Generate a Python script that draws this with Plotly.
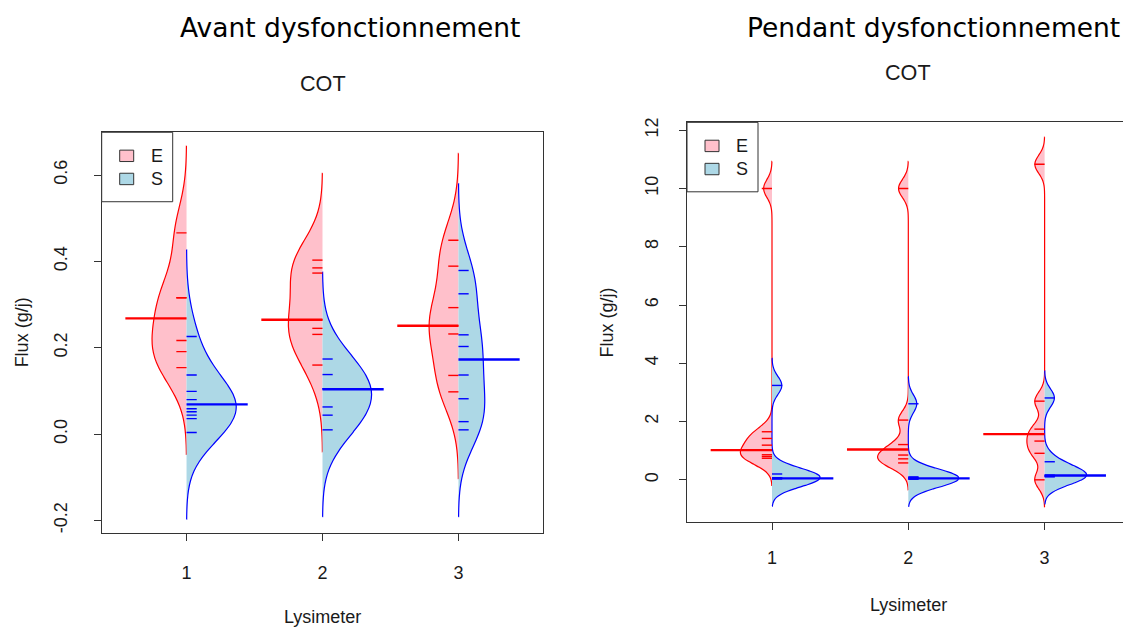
import numpy as np
import plotly.graph_objects as go

# Lysimeter groups
groups = [1, 2, 3]
group_labels = ["1", "2", "3"]

# COT flux (g/j) before the malfunction: entrée (E) and sortie (S) per lysimeter
avant_E = [
    [0.154, 0.191, 0.217, 0.316, 0.316, 0.466],
    [0.160, 0.231, 0.245, 0.265, 0.373, 0.385, 0.403],
    [0.098, 0.136, 0.232, 0.251, 0.293, 0.389, 0.449],
]
avant_S = [
    [0.004, 0.036, 0.044, 0.052, 0.059, 0.080, 0.099, 0.137, 0.226],
    [0.010, 0.044, 0.063, 0.105, 0.105, 0.138, 0.174],
    [0.010, 0.029, 0.082, 0.137, 0.203, 0.230, 0.325, 0.379],
]
avant_centre_E = [0.268, 0.265, 0.251]
avant_centre_S = [0.069, 0.104, 0.173]

# COT flux (g/j) during the malfunction
pendant_E = [
    [0.74, 0.80, 0.86, 1.19, 1.42, 1.65, 10.0],
    [0.58, 0.72, 0.85, 1.21, 2.05, 10.0],
    [0.0, 0.91, 1.33, 1.74, 2.70, 10.83],
]
pendant_S = [
    [0.03, 0.05, 0.06, 0.07, 0.20, 3.24],
    [0.02, 0.04, 0.05, 0.06, 0.08, 0.10, 2.61],
    [0.10, 0.12, 0.14, 0.16, 0.62, 2.81],
]
pendant_centre_E = [1.02, 1.04, 1.57]
pendant_centre_S = [0.05, 0.05, 0.15]

avant_yticks = [-0.2, 0.0, 0.2, 0.4, 0.6]
avant_yticktext = ["-0.2", "0.0", "0.2", "0.4", "0.6"]
pendant_yticks = [0, 2, 4, 6, 8, 10, 12]
pendant_yticktext = ["0", "2", "4", "6", "8", "10", "12"]

W, H = 1123, 628


def fx(px):
    return px / W


def fy(py):
    return 1 - py / H


RED, BLUE = "#ff0000", "#0000ff"
PINK, LIGHTBLUE = "#ffc0cb", "#add8e6"
FONT = "Liberation Sans, Arial, sans-serif"
TXT = "#1a1a1a"

panels = [
    dict(key="avant", xa="x", ya="y", E=avant_E, S=avant_S,
         cE=avant_centre_E, cS=avant_centre_S, bw=0.067, maxhalf=0.364),
    dict(key="pendant", xa="x2", ya="y2", E=pendant_E, S=pendant_S,
         cE=pendant_centre_E, cS=pendant_centre_S, bw=0.31, maxhalf=0.367),
]

BEANLINE = 0.075
CENTRELINE = 0.45


def kde_peak(vals, bw):
    """Highest value of the Gaussian kernel density over the bean's span."""
    v = np.asarray(vals, dtype=float)
    t = np.linspace(v.min() - 3 * bw, v.max() + 3 * bw, 600)
    z = (t[:, None] - v[None, :]) / bw
    dens = np.exp(-0.5 * z ** 2).sum(axis=1) / (len(v) * bw * np.sqrt(2 * np.pi))
    return dens.max()


fig = go.Figure()

for p in panels:
    bw = p["bw"]
    # all beans of a panel share one density scale
    peaks = {(s, i): kde_peak(vals, bw)
             for s, series in (("E", p["E"]), ("S", p["S"]))
             for i, vals in enumerate(series)}
    top = max(peaks.values())
    for s, side, series, fill, col in (("E", "negative", p["E"], PINK, RED),
                                       ("S", "positive", p["S"], LIGHTBLUE, BLUE)):
        for i, (g, vals) in enumerate(zip(groups, series)):
            half = p["maxhalf"] * peaks[(s, i)] / top
            fig.add_trace(go.Violin(
                x=[g] * len(vals), y=vals, side=side,
                width=2 * half, scalegroup=f"{p['key']}-{s}-{i}",
                scalemode="width",
                bandwidth=bw, spanmode="manual",
                span=[min(vals) - 3 * bw, max(vals) + 3 * bw],
                fillcolor=fill, line=dict(color=col, width=1.2),
                points=False, box_visible=False, meanline_visible=False,
                xaxis=p["xa"], yaxis=p["ya"], showlegend=False,
                hoverinfo="skip",
            ))

    # individual observations (bean lines)
    for series, sign, col in ((p["E"], -1, RED), (p["S"], 1, BLUE)):
        xs, ys = [], []
        for g, vals in zip(groups, series):
            for v in vals:
                xs += [g, g + sign * BEANLINE, None]
                ys += [v, v, None]
        fig.add_trace(go.Scatter(x=xs, y=ys, mode="lines",
                                 line=dict(color=col, width=1.4),
                                 xaxis=p["xa"], yaxis=p["ya"],
                                 showlegend=False, hoverinfo="skip"))

    # centre line of each bean half
    for centres, sign, col in ((p["cE"], -1, RED), (p["cS"], 1, BLUE)):
        xs, ys = [], []
        for g, c in zip(groups, centres):
            xs += [g, g + sign * CENTRELINE, None]
            ys += [c, c, None]
        fig.add_trace(go.Scatter(x=xs, y=ys, mode="lines",
                                 line=dict(color=col, width=2.4),
                                 xaxis=p["xa"], yaxis=p["ya"],
                                 showlegend=False, hoverinfo="skip"))

axis_common = dict(showgrid=False, zeroline=False, showline=True,
                   linecolor="#333333", linewidth=1, ticks="outside",
                   ticklen=7, tickcolor="#333333",
                   tickfont=dict(family=FONT, size=18, color=TXT))

fig.update_layout(
    width=W, height=H,
    margin=dict(l=0, r=0, t=0, b=0),
    paper_bgcolor="white", plot_bgcolor="white",
    violinmode="overlay", violingap=0, violingroupgap=0,
    showlegend=False,
    xaxis=dict(domain=[fx(101.7), fx(543.3)], range=[0.376, 3.624],
               tickvals=groups, ticktext=group_labels, mirror=True,
               anchor="y", ticklabelstandoff=16, **axis_common),
    yaxis=dict(domain=[fy(532.3), fy(128.3)], range=[-0.229, 0.699],
               tickvals=avant_yticks, ticktext=avant_yticktext,
               tickangle=-90, mirror=True, anchor="x",
               ticklabelstandoff=20, **axis_common),
    xaxis2=dict(domain=[fx(687), 1.0], range=[0.3764, 3.575],
                tickvals=groups, ticktext=group_labels, mirror=True,
                anchor="y2", ticklabelstandoff=12, **axis_common),
    yaxis2=dict(domain=[fy(521.5), fy(118.3)], range=[-1.46, 12.27],
                tickvals=pendant_yticks, ticktext=pendant_yticktext,
                tickangle=-90, mirror=False, anchor="x2",
                ticklabelstandoff=14, **axis_common),
)


def text(s, x, y, size, family=FONT, angle=0, color=TXT, xanchor="center"):
    fig.add_annotation(text=s, x=fx(x), y=fy(y), xref="paper", yref="paper",
                       showarrow=False, textangle=angle, xanchor=xanchor,
                       yanchor="middle",
                       font=dict(family=family, size=size, color=color))


# panel headings
text("Avant dysfonctionnement", 350, 23, 26.5, family="DejaVu Sans", color="black")
text("Pendant dysfonctionnement", 933.5, 23, 26.5, family="DejaVu Sans", color="black")

# titles and axis labels of each panel
text("COT", 322.5, 79, 21.6)
text("COT", 908, 68, 21.6)
text("Lysimeter", 322.5, 617, 18)
text("Lysimeter", 908, 605, 18)
text("Flux (g/j)", 22, 330, 18, angle=-90)
text("Flux (g/j)", 607, 320, 18, angle=-90)

# legend boxes
for (bx0, by0) in ((101.7, 128.3), (687, 118.3)):
    fig.add_shape(type="rect", xref="paper", yref="paper",
                  x0=fx(bx0), x1=fx(bx0 + 71), y0=fy(by0 + 70), y1=fy(by0),
                  line=dict(color="#333333", width=1), fillcolor="white",
                  layer="above")
    for i, (lab, fill) in enumerate((("E", PINK), ("S", LIGHTBLUE))):
        sy = by0 + 18 + i * 23.3
        fig.add_shape(type="rect", xref="paper", yref="paper",
                      x0=fx(bx0 + 18), x1=fx(bx0 + 32),
                      y0=fy(sy + 11.5), y1=fy(sy),
                      line=dict(color="#333333", width=1), fillcolor=fill,
                      layer="above")
        text(lab, bx0 + 55, sy + 6, 18)

fig.write_html("out.html")
